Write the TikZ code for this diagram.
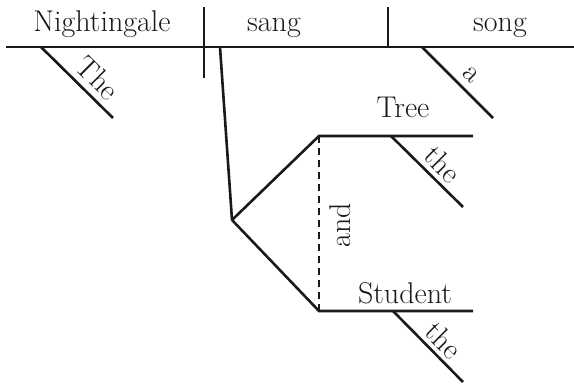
\documentclass[tikz,border=0pt]{standalone}
\begin{document}
\begin{tikzpicture}[x=1pt,y=-1pt,
  rule/.style={line width=2.6pt, draw=black!90},
  joiner/.style={rule, dash pattern=on 7pt off 5pt},
  word/.style={font=\fontsize{30}{34}\selectfont, inner sep=0pt, text=black!90}]
\useasboundingbox (0,0) rectangle (574,386);

% main line with subject / verb / object dividers
\coordinate (baseL) at (6,47);
\coordinate (baseR) at (574,47);
\coordinate (subjTop) at (204,7);
\coordinate (subjBot) at (204,78);
\coordinate (objTop) at (388,7);
\coordinate (objBot) at (388,47);
% modifiers on the main line
\coordinate (theA) at (41,47);
\coordinate (theB) at (113,118);
\coordinate (aA) at (422,47);
\coordinate (aB) at (493,118);
% compound object of the preposition
\coordinate (sangFoot) at (220,47);
\coordinate (fork) at (232,220);
\coordinate (treeL) at (319,136);
\coordinate (treeR) at (473,136);
\coordinate (studL) at (319,311);
\coordinate (studR) at (473,311);
\coordinate (theTA) at (391,136);
\coordinate (theTB) at (463,207);
\coordinate (theSA) at (393,311);
\coordinate (theSB) at (463,382);

\draw[rule] (baseL) -- (baseR);
\draw[rule] (subjTop) -- (subjBot);
\draw[rule] (objTop) -- (objBot);
\draw[rule] (theA) -- (theB);
\draw[rule] (aA) -- (aB);
\draw[rule] (sangFoot) -- (fork);
\draw[rule] (fork) -- (treeL) -- (treeR);
\draw[rule] (fork) -- (studL) -- (studR);
\draw[rule] (theTA) -- (theTB);
\draw[rule] (theSA) -- (theSB);
\draw[joiner] (treeL) -- (studL);

% words
\node[word, anchor=base] (nightingale) at (102,31) {Nightingale};
\node[word, anchor=base] (sang) at (274,31) {sang};
\node[word, anchor=base] (song) at (500,31) {song};
\node[word, anchor=base] (tree) at (403,117) {Tree};
\node[word, anchor=base] (student) at (405,303) {Student};
\node[word, rotate=-45] (the1) at (98,78) {The};
\node[word, rotate=-45] (a) at (471,75) {a};
\node[word, rotate=-45] (the2) at (443,164) {the};
\node[word, rotate=-45] (the3) at (444,340) {the};
\node[word, rotate=90] (and) at (340,225) {and};
\end{tikzpicture}
\end{document}
